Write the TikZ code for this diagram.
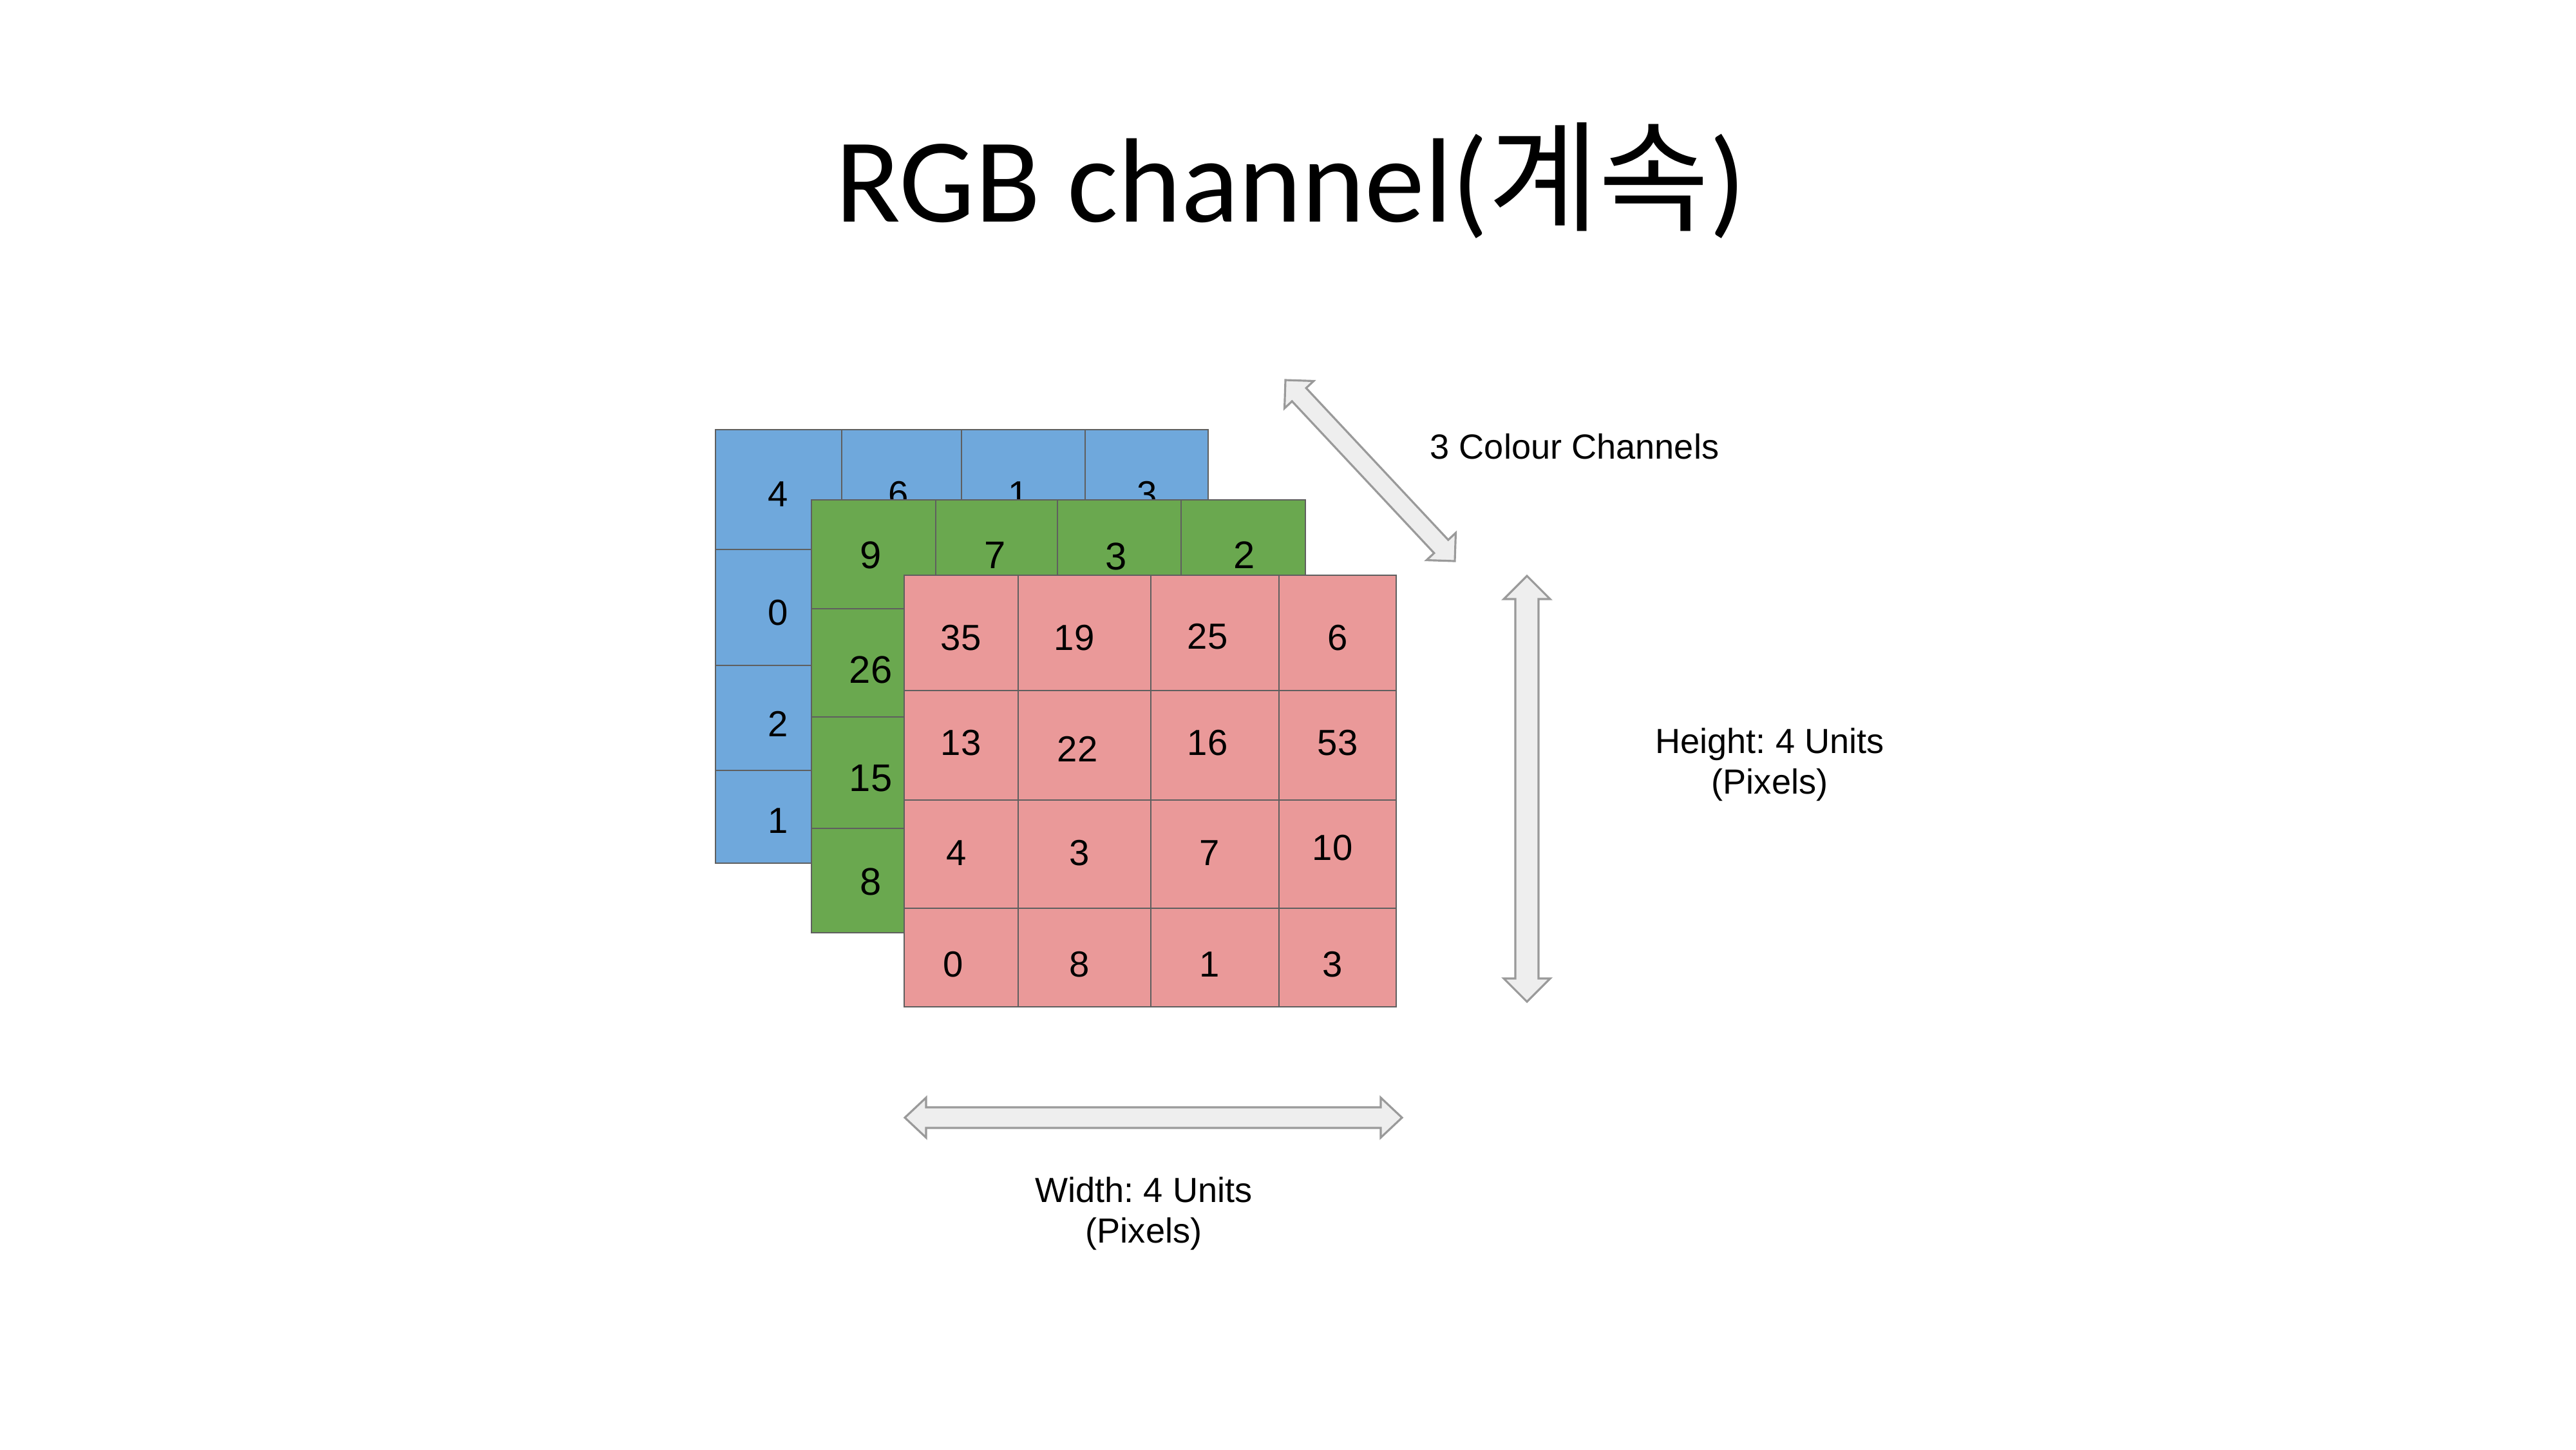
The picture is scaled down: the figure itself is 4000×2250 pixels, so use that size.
\documentclass[tikz,border=0pt]{standalone}
\usepackage{fontspec}
\setmainfont{Liberation Sans}
\newfontfamily\titlefont{Carlito}
\newfontfamily\krfont{Noto Sans CJK KR}
\usetikzlibrary{calc}
\frenchspacing
\definecolor{chblue}{HTML}{6FA8DC}
\definecolor{chgreen}{HTML}{6AA84F}
\definecolor{chred}{HTML}{EA9999}
\definecolor{gridgray}{HTML}{5F5F5F}
\definecolor{arrowfill}{HTML}{EEEEEE}
\definecolor{arrowline}{HTML}{9A9A9A}
\newcommand\mydblarrow[5]{%
  \coordinate (P1) at ($(#1)!#3!(#2)$);
  \coordinate (P2) at ($(#2)!#3!(#1)$);
  \filldraw[blockarrow] (#1) -- ($(P1)!#4!90:(#2)$) -- ($(P1)!#5!90:(#2)$)
    -- ($(P2)!#5!-90:(#1)$) -- ($(P2)!#4!-90:(#1)$) -- (#2)
    -- ($(P2)!#4!90:(#1)$) -- ($(P2)!#5!90:(#1)$)
    -- ($(P1)!#5!-90:(#2)$) -- ($(P1)!#4!-90:(#2)$) -- cycle;}
\tikzset{
  gridline/.style={draw=gridgray, line width=0.8pt},
  num/.style={inner sep=0pt, font=\fontsize{16pt}{18pt}\selectfont},
  gnum/.style={inner sep=0pt, font=\fontsize{17pt}{19pt}\selectfont},
  label/.style={inner sep=0pt, align=center, font=\fontsize{15.4pt}{17.9pt}\selectfont\frenchspacing},
  blockarrow/.style={fill=arrowfill, draw=arrowline, line width=0.9pt, line join=miter}
}
\begin{document}
\begin{tikzpicture}[x=0.01cm,y=-0.01cm]
\useasboundingbox[fill=white] (0,0) rectangle (4000,2250);

% title
\node[anchor=base, inner sep=0pt] (title) at (2004,344)
  {\titlefont\fontsize{53pt}{60pt}\selectfont RGB channel(\krfont 계속\titlefont)};

% blue grid
\fill[chblue] (1111,667) rectangle (1876,1340);
\draw[gridline] (1111,667) rectangle (1876,1340);
\foreach \x in {1307,1493,1685} \draw[gridline] (\x,667) -- (\x,1340);
\foreach \y in {853,1033,1196} \draw[gridline] (1111,\y) -- (1876,\y);
\node[num] (b1) at (1208,767) {4};
\node[num] (b2) at (1395,767) {6};
\node[num] (b3) at (1581,767) {1};
\node[num] (b4) at (1781,767) {3};
\node[num] (b5) at (1208,951) {0};
\node[num] (b6) at (1208,1124) {2};
\node[num] (b7) at (1208,1274) {1};

% green grid
\fill[chgreen] (1260,776) rectangle (2027,1448);
\draw[gridline] (1260,776) rectangle (2027,1448);
\foreach \x in {1453,1642,1834} \draw[gridline] (\x,776) -- (\x,1448);
\foreach \y in {945,1113,1286} \draw[gridline] (1260,\y) -- (2027,\y);
\node[gnum] (g1) at (1352,862) {9};
\node[gnum] (g2) at (1545,862) {7};
\node[gnum] (g3) at (1733,864) {3};
\node[gnum] (g4) at (1932,862) {2};
\node[gnum] (g5) at (1352,1040) {26};
\node[gnum] (g6) at (1352,1208) {15};
\node[gnum] (g7) at (1352,1369) {8};

% red grid
\fill[chred] (1404,893) rectangle (2168,1563);
\draw[gridline] (1404,893) rectangle (2168,1563);
\foreach \x in {1581,1787,1986} \draw[gridline] (\x,893) -- (\x,1563);
\foreach \y in {1072,1242,1410} \draw[gridline] (1404,\y) -- (2168,\y);
\node[num] (r11) at (1492,990) {35};
\node[num] (r12) at (1668,990) {19};
\node[num] (r13) at (1875,988) {25};
\node[num] (r14) at (2077,990) {6};
\node[num] (r21) at (1492,1153) {13};
\node[num] (r22) at (1673,1163) {22};
\node[num] (r23) at (1875,1153) {16};
\node[num] (r24) at (2077,1153) {53};
\node[num] (r31) at (1485,1324) {4};
\node[num] (r32) at (1676,1324) {3};
\node[num] (r33) at (1878,1324) {7};
\node[num] (r34) at (2069,1316) {10};
\node[num] (r41) at (1480,1497) {0};
\node[num] (r42) at (1676,1497) {8};
\node[num] (r43) at (1878,1497) {1};
\node[num] (r44) at (2069,1497) {3};

% arrows
\coordinate (dA) at (1996,590);
\coordinate (dB) at (2259,871);
\mydblarrow{dA}{dB}{0.31cm}{0.31cm}{0.15cm}
\coordinate (vA) at (2371,894);
\coordinate (vB) at (2371,1555);
\mydblarrow{vA}{vB}{0.36cm}{0.36cm}{0.18cm}
\coordinate (hA) at (1405,1735);
\coordinate (hB) at (2177,1735);
\mydblarrow{hA}{hB}{0.33cm}{0.31cm}{0.16cm}

% labels
\node[label, anchor=base] (lc) at (2445,712) {3 Colour Channels};
\node[label] (lh) at (2748,1187) {Height: 4 Units\\(Pixels)};
\node[label] (lw) at (1776,1884) {Width: 4 Units\\(Pixels)};
\end{tikzpicture}
\end{document}
